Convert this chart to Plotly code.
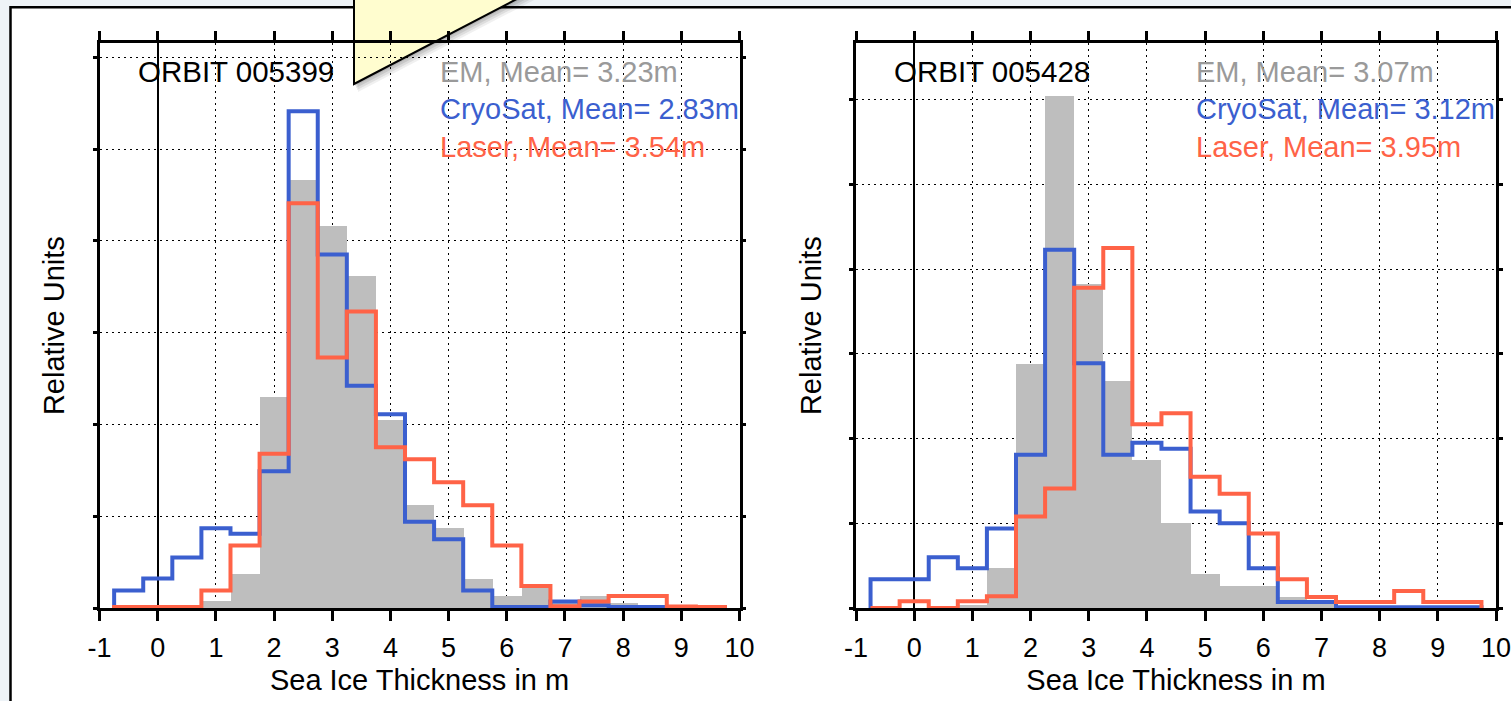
import numpy as np
import plotly.graph_objects as go

W, H = 1511, 701

# ---------------- data ----------------
bin_centers = [-0.5, 0.0, 0.5, 1.0, 1.5, 2.0, 2.5, 3.0, 3.5, 4.0, 4.5,
               5.0, 5.5, 6.0, 6.5, 7.0, 7.5, 8.0, 8.5, 9.0, 9.5]
bin_width = 0.5

# Orbit 005399 (left panel), relative units
em_005399 = [0.0, 0.0, 0.0, 0.07, 0.37, 2.30, 4.66, 4.16, 3.61, 2.05, 1.12,
             0.87, 0.31, 0.13, 0.23, 0.08, 0.13, 0.05, 0.02, 0.01, 0.01]
cryosat_005399 = [0.19, 0.32, 0.55, 0.87, 0.81, 1.49, 5.41, 3.85, 2.42, 2.11, 0.94,
                  0.75, 0.19, 0.01, 0.01, 0.07, 0.03, 0.01, 0.01, 0.01, 0.01]
laser_005399 = [0.01, 0.01, 0.01, 0.19, 0.68, 1.68, 4.41, 2.73, 3.23, 1.75, 1.62,
                1.37, 1.12, 0.68, 0.24, 0.02, 0.07, 0.13, 0.13, 0.015, 0.01]

# Orbit 005428 (right panel), relative units
em_005428 = [0.0, 0.0, 0.0, 0.03, 0.47, 2.88, 6.04, 3.82, 2.68, 1.74, 1.0,
             0.40, 0.26, 0.26, 0.13, 0.05, 0.02, 0.02, 0.01, 0.01, 0.01]
cryosat_005428 = [0.34, 0.34, 0.60, 0.47, 0.94, 1.81, 4.23, 2.89, 1.81, 1.95, 1.88,
                  1.14, 1.0, 0.47, 0.07, 0.07, 0.01, 0.01, 0.01, 0.01, 0.01]
laser_005428 = [0.0, 0.08, 0.0, 0.08, 0.14, 1.08, 1.41, 3.78, 4.25, 2.17, 2.30,
                1.55, 1.35, 0.88, 0.34, 0.13, 0.07, 0.07, 0.20, 0.07, 0.07]

orbit_labels = ["ORBIT 005399", "ORBIT 005428"]
em_means = ["3.23", "3.07"]
cryosat_means = ["2.83", "3.12"]
laser_means = ["3.54", "3.95"]

x_tickvals = [-1, 0, 1, 2, 3, 4, 5, 6, 7, 8, 9, 10]
x_ticktext = ["-1", "0", "1", "2", "3", "4", "5", "6", "7", "8", "9", "10"]
y_tickvals = [0, 1, 2, 3, 4, 5, 6]

# ---------------- styles ----------------
FONT = "Liberation Sans, Arial, Helvetica, sans-serif"
C_EM = "#bebebe"
C_EM_TXT = "#9a9a9a"
C_CRYO = "#3b5fcf"
C_LASER = "#ff6347"


def px(x):
    return x / W


def py(y):
    return 1 - y / H


def step_xy(vals):
    lefts = [c - bin_width / 2 for c in bin_centers]
    end = bin_centers[-1] + bin_width / 2
    xs = [lefts[0]] + lefts + [end, end]
    ys = [0] + list(vals) + [vals[-1], 0]
    return xs, ys


fig = go.Figure()

panels = [
    ("x", "y", em_005399, cryosat_005399, laser_005399),
    ("x2", "y2", em_005428, cryosat_005428, laser_005428),
]
for xa, ya, em, cr, la in panels:
    fig.add_trace(go.Bar(x=bin_centers, y=em, width=bin_width, xaxis=xa, yaxis=ya,
                         marker=dict(color=C_EM, line=dict(width=0)),
                         name="EM", showlegend=False, hoverinfo="skip"))
    xs, ys = step_xy(cr)
    fig.add_trace(go.Scatter(x=xs, y=ys, mode="lines", line_shape="hv", xaxis=xa, yaxis=ya,
                             line=dict(color=C_CRYO, width=4), name="CryoSat",
                             showlegend=False, hoverinfo="skip"))
    xs, ys = step_xy(la)
    fig.add_trace(go.Scatter(x=xs, y=ys, mode="lines", line_shape="hv", xaxis=xa, yaxis=ya,
                             line=dict(color=C_LASER, width=4), name="Laser",
                             showlegend=False, hoverinfo="skip"))

common = dict(showline=True, linecolor="black", linewidth=2.5, mirror="ticks",
              ticks="outside", tickwidth=2.5, tickcolor="black", automargin=False,
              showgrid=True, gridcolor="black", gridwidth=1, griddash="2px,4px")

xcommon = dict(common, range=[-1, 10], tickmode="array", tickvals=x_tickvals,
               ticktext=x_ticktext, ticklen=10, ticklabelstandoff=4,
               ticklabeloverflow="allow",
               zeroline=True, zerolinecolor="black", zerolinewidth=1.5,
               tickfont=dict(family=FONT, size=27, color="black"),
               title=dict(text="Sea Ice Thickness in m",
                          font=dict(family=FONT, size=29, color="black"), standoff=8))
ycommon = dict(common, tickmode="array", tickvals=y_tickvals, showticklabels=False,
               ticklen=4, zeroline=False,
               title=dict(text="Relative Units",
                          font=dict(family=FONT, size=29, color="black"), standoff=20))

ydom = [py(608), py(43.3)]
fig.update_layout(
    template="none",
    width=W, height=H, autosize=False,
    margin=dict(l=0, r=0, t=0, b=0, autoexpand=False),
    paper_bgcolor="#eef3f7", plot_bgcolor="rgba(0,0,0,0)",
    font=dict(family=FONT, color="black"),
    showlegend=False, bargap=0,
    xaxis=dict(xcommon, domain=[px(99.6), px(739.5)], anchor="y"),
    yaxis=dict(ycommon, domain=ydom, range=[0, 564.7 / 91.8], anchor="x"),
    xaxis2=dict(xcommon, domain=[px(856), px(1496)], anchor="y2"),
    yaxis2=dict(ycommon, domain=ydom, range=[0, 564.7 / 84.7], anchor="x2"),
)

# slide frame and callout (decorations)
shapes = [
    dict(type="rect", xref="paper", yref="paper", x0=px(10.5), x1=px(1530),
         y0=py(7.3), y1=py(730), fillcolor="white", line=dict(color="black", width=2.5),
         layer="below"),
]
for dx, dy, a in [(1, 2, 0.10), (2, 4, 0.09), (3, 6, 0.08), (4, 8, 0.06)]:
    shapes.append(dict(type="path", xref="paper", yref="paper",
                       path=f"M {px(354+dx)},{py(-10)} L {px(354+dx)},{py(84+dy)} "
                            f"L {px(534+dx)},{py(-10+dy)} Z",
                       fillcolor=f"rgba(0,0,0,{a})", line=dict(width=0), layer="below"))
shapes.append(dict(type="path", xref="paper", yref="paper",
                   path=f"M {px(354)},{py(-10)} L {px(354)},{py(84)} L {px(534)},{py(-10)} Z",
                   fillcolor="#fffdcf", line=dict(color="black", width=2), layer="below"))
fig.update_layout(shapes=shapes)

# text annotations
annots = []
panel_left = [99.6, 856]
for i in range(2):
    x0 = panel_left[i]
    annots.append(dict(text=orbit_labels[i], x=px(x0 + 36), y=py(72), xref="paper", yref="paper",
                       xanchor="left", yanchor="middle", showarrow=False,
                       font=dict(family=FONT, size=29.5, color="black")))
    lx = px(x0 + 338)
    annots.append(dict(text=f"EM, Mean= {em_means[i]}m", x=lx, y=py(72), xref="paper", yref="paper",
                       xanchor="left", yanchor="middle", showarrow=False,
                       font=dict(family=FONT, size=29, color=C_EM_TXT)))
    annots.append(dict(text=f"CryoSat, Mean= {cryosat_means[i]}m", x=lx, y=py(109.5), xref="paper",
                       yref="paper", xanchor="left", yanchor="middle", showarrow=False,
                       font=dict(family=FONT, size=29, color=C_CRYO)))
    annots.append(dict(text=f"Laser, Mean= {laser_means[i]}m", x=lx, y=py(147), xref="paper",
                       yref="paper", xanchor="left", yanchor="middle", showarrow=False,
                       font=dict(family=FONT, size=29, color=C_LASER)))
fig.update_layout(annotations=annots)

fig.write_html("out.html", config={"displayModeBar": False},
               post_script="document.body.style.margin='0';document.body.style.overflow='hidden';")
